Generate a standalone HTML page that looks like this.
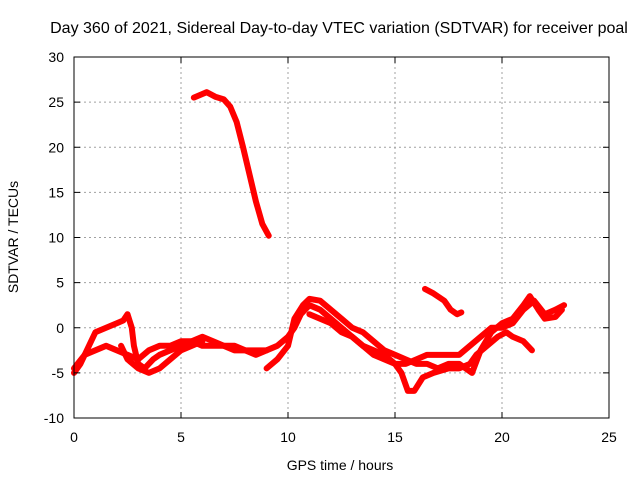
<!DOCTYPE html>
<html><head><meta charset="utf-8"><style>
body{margin:0;background:#fff}
text{font-family:"Liberation Sans",sans-serif;font-size:14px;fill:#000}
</style></head><body>
<svg id="chart" width="640" height="480" xmlns="http://www.w3.org/2000/svg">
<rect width="640" height="480" fill="#fff"/>
<g id="grid"></g>
<g id="series"></g>
<rect x="74" y="57" width="535" height="361" fill="none" stroke="#000" stroke-width="1"/>
<g id="ticks"></g>
<text x="339" y="33" text-anchor="middle" style="font-size:16px">Day 360 of 2021, Sidereal Day-to-day VTEC variation (SDTVAR) for receiver poal</text>
<text x="340" y="470" text-anchor="middle">GPS time / hours</text>
<text x="0" y="0" transform="translate(18,237) rotate(-90)" text-anchor="middle">SDTVAR / TECUs</text>
</svg>
<script>
const xTicks=[0,5,10,15,20,25];
const yTicks=[-10,-5,0,5,10,15,20,25,30];
const seriesA=[[5.6,25.5],[6.0,25.9],[6.2,26.1],[6.6,25.6],[7.0,25.3],[7.3,24.5],[7.6,22.8],[7.9,20],[8.2,17],[8.5,14],[8.8,11.5],[9.1,10.2]];
const seriesB=[[16.4,4.3],[16.8,3.8],[17.3,3.0],[17.6,2],[17.9,1.5],[18.1,1.7]];
const seriesC=[[0,-5],[0.3,-4],[0.5,-3],[1,-2.5],[1.5,-2],[2,-2.5],[2.5,-3],[3,-3.5],[3.5,-2.5],[4,-2],[4.5,-2],[5,-1.5],[5.5,-1.5],[6,-1],[6.5,-1.5],[7,-2],[7.5,-2],[8,-2.5],[8.5,-2.5],[9,-2.5],[9.5,-2],[10,-1],[10.3,0],[10.6,1.5],[11,2.5],[11.5,2],[12,1],[12.5,0],[13,-1],[13.5,-2],[14,-3],[14.5,-3.5],[15,-4],[15.5,-4],[16,-3.5],[16.5,-3],[17,-3],[17.5,-3],[18,-3],[18.5,-2],[19,-1],[19.5,0],[20,0],[20.5,0.5],[21,2],[21.5,3],[22,1.5],[22.5,2],[22.9,2.5]];
const seriesD1=[[0,-4.5],[0.5,-3],[1,-0.5],[1.5,0],[2,0.5],[2.3,0.8],[2.5,1.5],[2.7,0],[2.8,-2],[3,-4],[3.3,-4.5],[3.7,-3.5],[4,-3],[4.5,-2.5],[5,-2],[5.5,-1.5],[6,-2],[6.5,-2],[7,-2],[7.5,-2.5],[8,-2.5],[8.5,-3],[9,-2.5]];
const seriesD2=[[9.0,-4.5],[9.5,-3.5],[10,-2],[10.3,1],[10.7,2.5],[11,3.2],[11.5,3],[12,2],[12.5,1],[13,0],[13.5,-0.5],[14,-1.5],[14.5,-2.5],[15,-3],[15.5,-3.5],[16,-4],[16.5,-4],[17,-4.5],[17.5,-4],[18,-4],[18.3,-4.5],[18.6,-5],[19,-2.5],[19.5,-0.5],[20,0.5],[20.5,1],[21,2.5],[21.3,3.5],[21.7,2],[22,1],[22.5,1.2],[22.8,2]];
const seriesE1=[[2.2,-2],[2.5,-3.5],[3,-4.5],[3.5,-5],[4,-4.5],[4.5,-3.5],[5,-2.5],[5.5,-2],[6,-1.5]];
const seriesE2=[[11,1.5],[11.5,1],[12,0.5],[12.5,-0.5],[13,-1],[13.5,-2],[14,-2.5],[14.5,-3],[15,-4],[15.3,-5],[15.6,-7],[15.9,-7],[16.3,-5.5],[16.8,-5],[17.5,-4.5],[18,-4.5],[18.5,-4],[18.8,-3],[19.3,-2],[19.8,-1],[20.2,-0.5],[20.5,-1],[21,-1.5],[21.4,-2.5]];
const allSeries=[seriesA,seriesB,seriesC,seriesD1,seriesD2,seriesE1,seriesE2];
const NS="http://www.w3.org/2000/svg";
const X0=74,X1=609,Y0=418,Y1=57;
function sx(v){return X0+(v-0)/(25-0)*(X1-X0);}
function sy(v){return Y0-(v+10)/(40)*(Y0-Y1);}
const grid=document.getElementById('grid'),ticks=document.getElementById('ticks'),ser=document.getElementById('series');
function mk(tag,attrs,parent){const e=document.createElementNS(NS,tag);for(const k in attrs)e.setAttribute(k,attrs[k]);parent.appendChild(e);return e;}
xTicks.forEach(t=>{
 const x=sx(t);
 if(t>0&&t<25){const g=mk('line',{x1:x,x2:x,y1:Y1,y2:Y0,stroke:'#a0a0a0','stroke-dasharray':'2,3'},grid);
 
 }
 const l=mk('line',{x1:x,x2:x,y1:Y0,y2:Y0-6,stroke:'#000'},ticks);
 
 
 mk('line',{x1:x,x2:x,y1:Y1,y2:Y1+6,stroke:'#000'},ticks);
 const tx=mk('text',{x:x,y:Y0+24,'text-anchor':'middle'},ticks);tx.textContent=t;
 
 
});
yTicks.forEach(t=>{
 const y=sy(t);
 if(t>-10&&t<30){const g=mk('line',{x1:X0,x2:X1,y1:y,y2:y,stroke:'#a0a0a0','stroke-dasharray':'2,3'},grid);
 
 }
 const l=mk('line',{x1:X0,x2:X0+6,y1:y,y2:y,stroke:'#000'},ticks);
 
 
 mk('line',{x1:X1,x2:X1-6,y1:y,y2:y,stroke:'#000'},ticks);
 const tx=mk('text',{x:X0-10,y:y+5,'text-anchor':'end'},ticks);tx.textContent=t;
 
 
});
allSeries.forEach((s,i)=>{
 const p=mk('polyline',{points:s.map(d=>sx(d[0])+','+sy(d[1])).join(' '),fill:'none',stroke:'#ff0000','stroke-width':6,'stroke-linejoin':'round','stroke-linecap':'round'},ser);
 
 
});
</script>
</body></html>
